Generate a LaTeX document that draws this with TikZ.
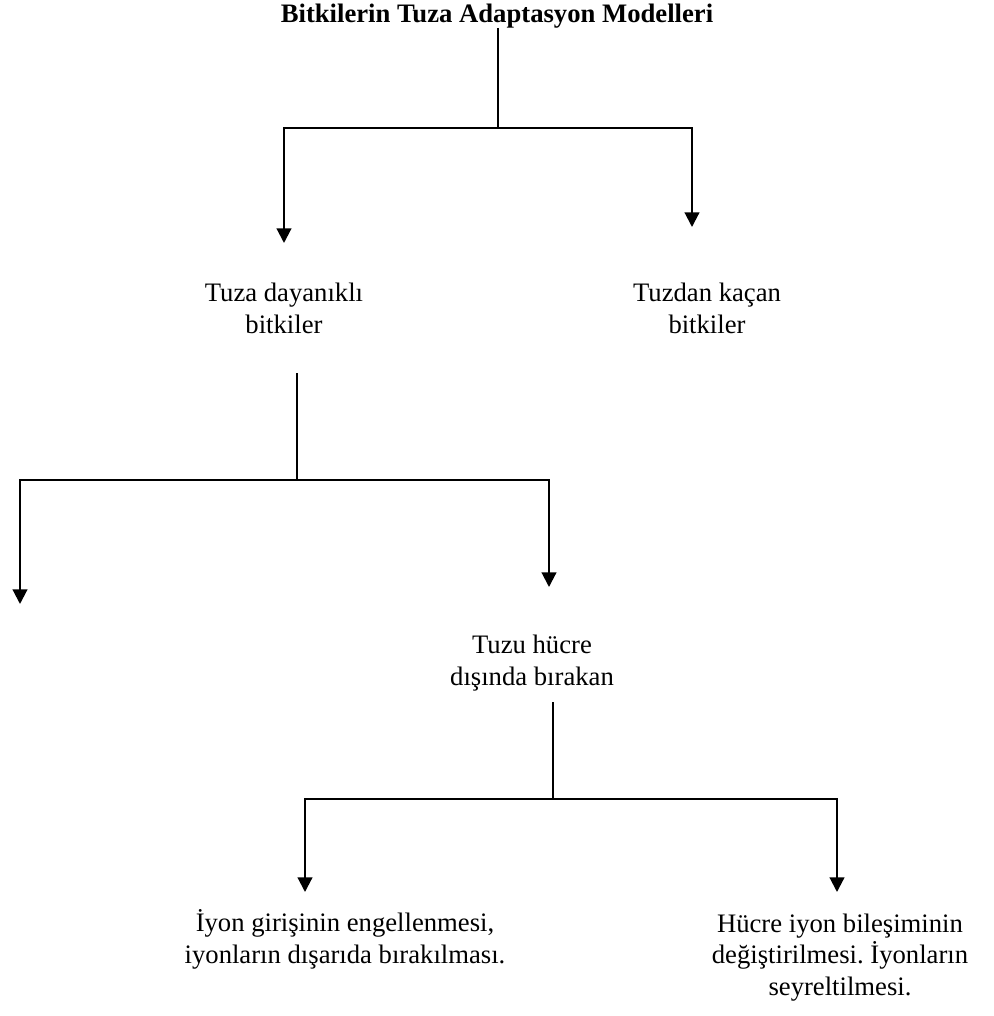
\documentclass[tikz,border=0pt]{standalone}
\usepackage{fontspec}
\setmainfont{Liberation Serif}
\usetikzlibrary{arrows.meta}
\frenchspacing
\begin{document}
\begin{tikzpicture}[x=0.75pt,y=-0.75pt,
  lbl/.style={align=center,inner sep=0pt,anchor=base,font=\fontsize{20}{23.5}\selectfont},
  ttl/.style={inner sep=0pt,anchor=base,font=\fontsize{20}{23.5}\selectfont\bfseries},
  conn/.style={line width=1.5pt},
  arr/.style={line width=1.6pt,-{Triangle[width=11pt,length=11pt]}}]
\useasboundingbox (0,0) rectangle (993,1016);
% nodes (anchor = baseline of the last line)
\node[ttl] (title) at (497,23) {Bitkilerin Tuza Adaptasyon Modelleri};
\node[lbl] (tol) at (284,333) {Tuza dayanıklı\\bitkiler};
\node[lbl] (esc) at (707,333) {Tuzdan kaçan\\bitkiler};
\node[lbl] (exc) at (532,685) {Tuzu hücre\\dışında bırakan};
\node[lbl] (blk) at (345,963) {İyon girişinin engellenmesi,\\iyonların dışarıda bırakılması.};
\node[lbl] (chg) at (840,995) {Hücre iyon bileşiminin\\değiştirilmesi. İyonların\\seyreltilmesi.};
% coordinates
\coordinate (t0) at (498,28);
\coordinate (j1) at (498,128);
\coordinate (a1) at (284,243);
\coordinate (a2) at (692,227);
\coordinate (s2) at (297,373);
\coordinate (j2) at (297,480);
\coordinate (a3) at (20,604);
\coordinate (a4) at (549,587);
\coordinate (s3) at (553,702);
\coordinate (j3) at (553,799);
\coordinate (a5) at (305,892);
\coordinate (a6) at (837,892);
% connectors
\draw[conn] (t0) -- (j1);
\draw[arr] (j1) -| (a1);
\draw[arr] (j1) -| (a2);
\draw[conn] (s2) -- (j2);
\draw[arr] (j2) -| (a3);
\draw[arr] (j2) -| (a4);
\draw[conn] (s3) -- (j3);
\draw[arr] (j3) -| (a5);
\draw[arr] (j3) -| (a6);
\end{tikzpicture}
\end{document}
